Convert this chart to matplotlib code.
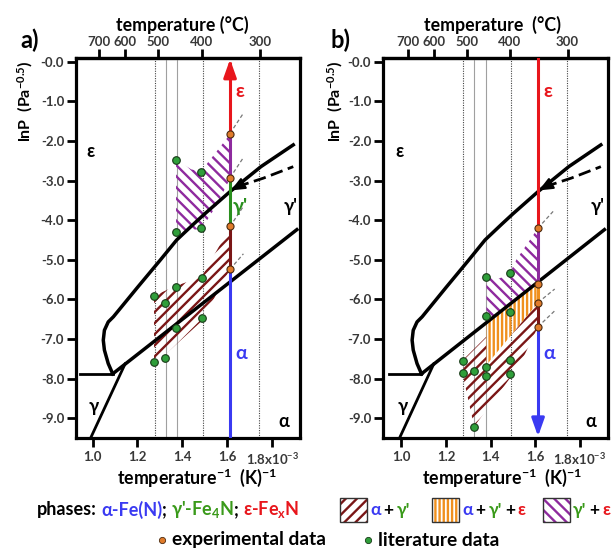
import matplotlib
matplotlib.use('Agg')
import matplotlib.pyplot as plt
import numpy as np
from matplotlib.patches import Polygon, Rectangle

plt.rcParams['font.family'] = ['Lato', 'Open Sans', 'DejaVu Sans']
plt.rcParams['font.weight'] = 'bold'
plt.rcParams['mathtext.fontset'] = 'custom'
plt.rcParams['mathtext.rm'] = 'Lato:bold'
plt.rcParams['mathtext.bf'] = 'Lato:bold'
plt.rcParams['mathtext.it'] = 'Lato:bold'
plt.rcParams['hatch.linewidth'] = 1.7

# ---------------- data ----------------
x_ticks = [1.0, 1.2, 1.4, 1.6, 1.8]
x_ticklabels = ['1.0', '1.2', '1.4', '1.6', r'1.8x10$^{-3}$']
y_ticks = [0, -1, -2, -3, -4, -5, -6, -7, -8, -9]
y_ticklabels = ['-0.0', '-1.0', '-2.0', '-3.0', '-4.0', '-5.0', '-6.0', '-7.0', '-8.0', '-9.0']
top_ticks_C = [700, 600, 500, 400, 300]

ref_lines_dotted = [1.278, 1.490, 1.740]
ref_lines_solid = [1.326, 1.378]
x_exp = 1.6125

# phase boundaries
upper_x = [1.090, 1.070, 1.053, 1.048, 1.053, 1.070, 1.093, 1.200, 1.300, 1.375, 1.450, 1.500, 1.6125, 1.750, 1.894]
upper_y = [-7.88, -7.62, -7.28, -7.03, -6.78, -6.57, -6.44, -5.70, -5.02, -4.50, -4.10, -3.84, -3.28, -2.65, -2.10]
lower_x = [1.090, 1.910]
lower_y = [-7.88, -4.24]
gamma_alpha_x = [0.990, 1.145]
gamma_alpha_y = [-9.52, -7.63]
horiz_x = [0.944, 1.090]
horiz_y = [-7.88, -7.88]
meta_x = [1.642, 1.761, 1.894]
meta_y = [-3.16, -2.94, -2.65]

# panel a regions
a_purple_x = [1.372, 1.440, 1.483, 1.6125, 1.6125, 1.553, 1.486, 1.372]
a_purple_y = [-2.48, -2.72, -2.77, -1.83, -2.95, -3.62, -4.22, -4.29]
a_maroon_x = [1.6125, 1.486, 1.372, 1.274, 1.274, 1.372, 1.486, 1.6125]
a_maroon_y = [-4.18, -5.43, -5.66, -5.91, -7.66, -7.14, -6.55, -5.24]

# panel b regions
b_purple_x = [1.381, 1.440, 1.486, 1.515, 1.6125, 1.6125, 1.381]
b_purple_y = [-5.45, -5.47, -5.34, -5.00, -4.20, -5.56, -6.59]
b_orange_x = [1.381, 1.6125, 1.6125, 1.381]
b_orange_y = [-6.59, -5.56, -6.08, -7.66]
b_maroon_x = [1.276, 1.381, 1.381, 1.6125, 1.6125, 1.530, 1.326, 1.276]
b_maroon_y = [-7.53, -6.94, -7.66, -6.08, -6.69, -7.66, -9.21, -7.93]

# experimental (orange) points
a_exp_y = [-1.83, -2.93, -4.16, -5.24]
b_exp_y = [-4.20, -5.60, -6.08, -6.69]

# literature (green) points
a_lit_x = [1.372, 1.483, 1.372, 1.483, 1.486, 1.372, 1.275, 1.323, 1.372, 1.486, 1.275, 1.323]
a_lit_y = [-2.48, -2.79, -4.29, -4.21, -5.45, -5.68, -5.92, -6.10, -6.72, -6.48, -7.58, -7.47]
b_lit_x = [1.378, 1.486, 1.378, 1.486, 1.276, 1.276, 1.326, 1.378, 1.378, 1.486, 1.486, 1.326]
b_lit_y = [-5.44, -5.34, -6.42, -6.31, -7.55, -7.86, -7.81, -7.70, -7.93, -7.52, -7.89, -9.23]

# colored segments along the experimental line (y_top, y_bottom, colour)
RED, BLUE, GREEN, PURPLE, MAROON, ORANGE = '#e8161c', '#3a3af2', '#2a8f1e', '#8e2a9e', '#7a1616', '#f0901e'
LGREEN = '#3a9a1a'
a_segments = [(0.0, -1.83, RED), (-1.83, -2.93, PURPLE), (-2.93, -4.16, GREEN), (-4.16, -5.24, MAROON), (-5.24, -9.6, BLUE)]
b_segments = [(0.2, -4.20, RED), (-4.20, -5.60, PURPLE), (-5.60, -6.08, ORANGE), (-6.08, -6.69, MAROON), (-6.69, -9.28, BLUE)]

# thin dashed extension lines (start y on exp line, end x, end y)
a_ext = [(-1.81, 1.672, -1.30), (-2.93, 1.672, -2.42), (-4.16, 1.672, -3.65), (-5.24, 1.672, -4.85)]
b_ext = [(-4.20, 1.680, -3.78), (-6.08, 1.687, -5.74), (-6.69, 1.687, -6.29)]

# ---------------- figure ----------------
W, H = 615, 552
fig = plt.figure(figsize=(W / 100, H / 100), dpi=100)


def px_axes(l, r, t, b):
    return fig.add_axes([l / W, 1 - b / H, (r - l) / W, (b - t) / H])


def to_C(x):
    x = np.asarray(x, float)
    with np.errstate(divide='ignore', invalid='ignore'):
        return 1000.0 / x - 273.15


def to_inv(T):
    T = np.asarray(T, float)
    with np.errstate(divide='ignore', invalid='ignore'):
        return 1000.0 / (T + 273.15)


TICKC = '#383838'


def draw_panel(ax, xlim, regions, segments, exp_y, lit_x, lit_y, ext, show_gamma_label, arrow_up):
    ax.set_xlim(*xlim)
    ax.set_ylim(-9.50, 0.093)
    for s in ax.spines.values():
        s.set_linewidth(2.3)
    ax.set_xticks(x_ticks)
    ax.set_xticklabels(x_ticklabels)
    ax.set_yticks(y_ticks)
    ax.set_yticklabels(y_ticklabels)
    ax.tick_params(axis='both', direction='out', length=6.5, width=2, labelsize=9.5,
                   labelcolor=TICKC, top=False, right=False)
    ax.tick_params(axis='y', pad=2)
    ax.tick_params(axis='x', pad=3)

    sec = ax.secondary_xaxis('top', functions=(to_C, to_inv))
    sec.set_xticks(top_ticks_C)
    sec.set_xticklabels([str(t) for t in top_ticks_C])
    sec.tick_params(direction='out', length=6.5, width=2, labelsize=9.5, labelcolor=TICKC, pad=1)
    sec.spines['top'].set_linewidth(2.3)

    for xv in ref_lines_dotted:
        ax.axvline(xv, color='#444444', lw=0.8, ls=(0, (1, 1.2)), zorder=0.5)
    for xv in ref_lines_solid:
        ax.axvline(xv, color='#a0a0a0', lw=0.8, zorder=0.5)

    for (px, py, col, hatch) in regions:
        ax.add_patch(Polygon(np.column_stack([px, py]), closed=True, facecolor='none',
                             edgecolor=col, lw=0, hatch=hatch, zorder=1))

    # phase boundaries
    ax.plot(upper_x, upper_y, color='black', lw=2.5, zorder=2, solid_joinstyle='round')
    ax.plot(lower_x, lower_y, color='black', lw=2.5, zorder=2)
    ax.plot(gamma_alpha_x, gamma_alpha_y, color='black', lw=2.0, zorder=2)
    ax.plot(horiz_x, horiz_y, color='black', lw=2.0, zorder=2)
    ax.plot(meta_x, meta_y, color='black', lw=2.0, ls=(0, (4.5, 2)), zorder=2)
    ax.annotate('', xy=(1.616, -3.25), xytext=(1.648, -3.15),
                arrowprops=dict(arrowstyle='-|>,head_width=0.3,head_length=0.7', color='black',
                                lw=1.5, shrinkA=0, shrinkB=0, mutation_scale=12), zorder=3)

    # extension dashed lines
    for (y0, x1, y1) in ext:
        ax.plot([x_exp, x1], [y0, y1], color='#777777', lw=0.9, ls=(0, (3, 2)), zorder=2)

    # colored experimental line
    for (y0, y1, col) in segments:
        ax.plot([x_exp, x_exp], [y0, y1], color=col, lw=2.2, solid_capstyle='butt', zorder=3)
    if arrow_up:
        ax.annotate('', xy=(x_exp, 0.06), xytext=(x_exp, -0.4),
                    arrowprops=dict(arrowstyle='-|>,head_width=0.32,head_length=0.9', color=RED,
                                    lw=2.2, shrinkA=0, shrinkB=0, mutation_scale=12), zorder=4)
    else:
        ax.annotate('', xy=(x_exp, -9.46), xytext=(x_exp, -9.0),
                    arrowprops=dict(arrowstyle='-|>,head_width=0.32,head_length=0.9', color=BLUE,
                                    lw=2.2, shrinkA=0, shrinkB=0, mutation_scale=12), zorder=4)

    ax.scatter([x_exp] * len(exp_y), exp_y, s=26, color='#e07b2a', edgecolor='#4a2a10',
               linewidth=0.8, zorder=5)
    ax.scatter(lit_x, lit_y, s=30, color='#2f9e3a', edgecolor='#173a17', linewidth=0.8, zorder=5)

    # phase labels
    ax.text(0.990, -2.27, 'ε', fontsize=13, ha='center', va='center', color='black')
    ax.text(1.880, -3.66, "γ'", fontsize=13, ha='center', va='center', color='black')
    ax.text(1.004, -8.71, 'γ', fontsize=13, ha='center', va='center', color='black')
    ax.text(1.850, -9.09, 'α', fontsize=13, ha='center', va='center', color='black')
    ax.text(1.657, -0.76, 'ε', fontsize=14, ha='center', va='center', color=RED)
    ax.text(1.664, -7.36, 'α', fontsize=14, ha='center', va='center', color=BLUE)
    if show_gamma_label:
        ax.text(1.660, -3.65, "γ'", fontsize=14, ha='center', va='center', color=GREEN)


axA = px_axes(76, 300, 58, 438)
axB = px_axes(383, 608, 58, 438)

draw_panel(axA, (0.9265, 1.924),
           [(a_maroon_x, a_maroon_y, MAROON, '///'), (a_purple_x, a_purple_y, PURPLE, '\\\\\\')],
           a_segments, a_exp_y, a_lit_x, a_lit_y, a_ext, True, True)
draw_panel(axB, (0.9175, 1.926),
           [(b_maroon_x, b_maroon_y, MAROON, '///'), (b_orange_x, b_orange_y, ORANGE, '||||'),
            (b_purple_x, b_purple_y, PURPLE, '\\\\\\')],
           b_segments, b_exp_y, b_lit_x, b_lit_y, b_ext, False, False)


def ftext(x, y, s, **kw):
    return fig.text(x / W, 1 - y / H, s, **kw)


# panel letters and axis titles
ftext(30, 40, 'a)', fontsize=17, ha='center', va='center')
ftext(340, 40, 'b)', fontsize=17, ha='center', va='center')
ftext(182, 25, 'temperature (°C)', fontsize=12.8, ha='center', va='center')
ftext(493, 25, 'temperature  (°C)', fontsize=12.8, ha='center', va='center')
ftext(197, 478, r'temperature$^{-1}$  (K)$^{-1}$', fontsize=12.8, ha='center', va='center')
ftext(502, 478, r'temperature$^{-1}$  (K)$^{-1}$', fontsize=12.8, ha='center', va='center')
ftext(25, 101, r'lnP  (Pa$^{-0.5}$)', fontsize=11.5, ha='center', va='center', rotation=90)
ftext(335, 101, r'lnP  (Pa$^{-0.5}$)', fontsize=11.5, ha='center', va='center', rotation=90)

# legend
renderer = fig.canvas.get_renderer()


def multicolor(x, y, parts, fs=12.5):
    for s, c, gap in parts:
        t = ftext(x, y, s, fontsize=fs, color=c, ha='left', va='center')
        bb = t.get_window_extent(renderer=renderer)
        x += bb.width + gap


multicolor(37, 510, [('phases:', 'black', 4), ('α-Fe(N)', BLUE, 0), (';', 'black', 4),
                     (r"γ'-Fe$_{4}$N", LGREEN, 0), (';', 'black', 4), (r'ε-Fe$_{x}$N', RED, 0)], fs=13)

for (bx, col, hatch) in [(340, MAROON, '///'), (432, ORANGE, '||||'), (543, PURPLE, '\\\\\\')]:
    fig.add_artist(Rectangle((bx / W, 1 - 522 / H), 27 / W, 24 / H, transform=fig.transFigure,
                             facecolor='white', edgecolor=col, lw=0, hatch=hatch))
    fig.add_artist(Rectangle((bx / W, 1 - 522 / H), 27 / W, 24 / H, transform=fig.transFigure,
                             facecolor='none', edgecolor='#333333', lw=1.0))

multicolor(370, 510, [('α', BLUE, 3), ('+', 'black', 3), ("γ'", LGREEN, 0)], fs=12.5)
multicolor(462, 510, [('α', BLUE, 3), ('+', 'black', 3), ("γ'", LGREEN, 3), ('+', 'black', 3),
                      ('ε', RED, 0)], fs=12.5)
multicolor(573, 510, [("γ'", LGREEN, 3), ('+', 'black', 3), ('ε', RED, 0)], fs=12.5)

fig.add_artist(plt.Line2D([162 / W], [1 - 540 / H], marker='o', markersize=4.5, color='#e07b2a',
                          markeredgecolor='#4a2a10', markeredgewidth=0.6, transform=fig.transFigure))
fig.add_artist(plt.Line2D([368 / W], [1 - 540 / H], marker='o', markersize=4.5, color='#2f9e3a',
                          markeredgecolor='#173a17', markeredgewidth=0.6, transform=fig.transFigure))
ftext(172, 540, 'experimental data', fontsize=13.8, ha='left', va='center')
ftext(378, 540, 'literature data', fontsize=13.8, ha='left', va='center')

fig.savefig('out.png', dpi=100)
